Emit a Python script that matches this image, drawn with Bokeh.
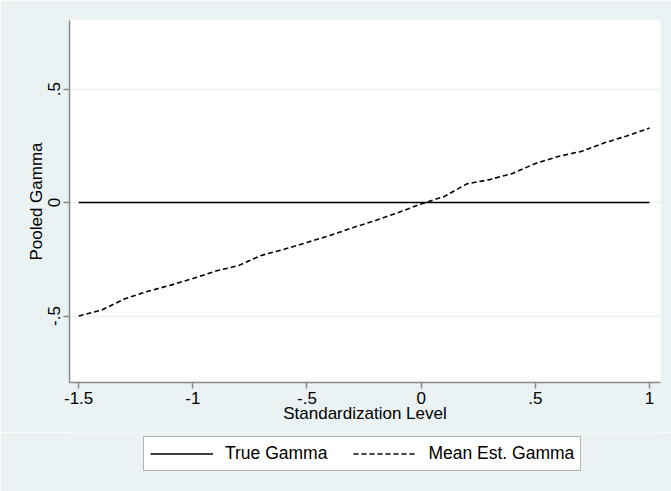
from bokeh.plotting import figure
from bokeh.layouts import column
from bokeh.models import Range1d, FixedTicker, Legend, LegendItem
from bokeh.embed import file_html
from bokeh.resources import INLINE

# Data
std_level = [-1.5, -1.4, -1.3, -1.2, -1.1, -1.0, -0.9, -0.8, -0.7, -0.6, -0.5, -0.4, -0.3,
             -0.2, -0.1, 0.0, 0.1, 0.2, 0.3, 0.4, 0.5, 0.6, 0.7, 0.8, 0.9, 1.0]
mean_est_gamma = [-0.500, -0.474, -0.425, -0.392, -0.365, -0.335, -0.302, -0.278, -0.233,
                  -0.206, -0.176, -0.145, -0.111, -0.079, -0.044, -0.006, 0.026, 0.082,
                  0.101, 0.128, 0.172, 0.203, 0.225, 0.262, 0.293, 0.328]
true_x = [-1.5, 1.0]
true_gamma = [0.0, 0.0]

x_ticks = [-1.5, -1.0, -0.5, 0.0, 0.5, 1.0]
x_tick_labels = ["-1.5", "-1", "-.5", "0", ".5", "1"]
y_ticks = [-0.5, 0.0, 0.5]
y_tick_labels = ["-.5", "0", ".5"]

BG = "#EAF2F3"
FONT = "Liberation Sans"
FS = "17px"

p = figure(width=671, height=432, output_backend="svg", toolbar_location=None,
           x_range=Range1d(-1.54, 1.048), y_range=Range1d(-0.793, 0.802),
           min_border_left=69, min_border_right=11, min_border_top=20, min_border_bottom=50)
p.background_fill_color = "white"
p.border_fill_color = BG
p.outline_line_color = None

r_true = p.line(true_x, true_gamma, line_color="black", line_width=1.3)
r_est = p.line(std_level, mean_est_gamma, line_color="black", line_width=1.6, line_dash="5 3")

# axes
p.xaxis.ticker = FixedTicker(ticks=x_ticks)
p.xaxis.major_label_overrides = {t: l for t, l in zip(x_ticks, x_tick_labels)}
p.yaxis.ticker = FixedTicker(ticks=y_ticks)
p.yaxis.major_label_overrides = {t: l for t, l in zip(y_ticks, y_tick_labels)}
p.yaxis.major_label_orientation = "vertical"

for ax in (p.xaxis[0], p.yaxis[0]):
    ax.axis_line_color = "#8a8a8a"
    ax.axis_line_width = 1.5
    ax.major_tick_line_color = "#8a8a8a"
    ax.major_tick_line_width = 1.5
    ax.major_tick_out = 6
    ax.major_tick_in = 0
    ax.minor_tick_line_color = None
    ax.major_label_text_font = FONT
    ax.major_label_text_font_size = FS
    ax.major_label_text_color = "black"
    ax.axis_label_text_font = FONT
    ax.axis_label_text_font_size = FS
    ax.axis_label_text_font_style = "normal"
    ax.axis_label_text_color = "black"

p.xaxis.axis_label = "Standardization Level"
p.yaxis.axis_label = "Pooled Gamma"
p.xaxis.major_label_standoff = 3
p.xaxis.axis_label_standoff = -3
p.yaxis.major_label_standoff = 3
p.yaxis.axis_label_standoff = 0

p.xgrid.grid_line_color = None
p.ygrid.ticker = FixedTicker(ticks=y_ticks)
p.ygrid.grid_line_color = BG
p.ygrid.grid_line_width = 1.5

# legend strip below the chart (its lines lie outside its visible ranges)
lg = figure(width=671, height=59, output_backend="svg", toolbar_location=None,
            x_range=Range1d(10, 11), y_range=Range1d(10, 11),
            x_axis_type=None, y_axis_type=None,
            min_border_left=0, min_border_right=0, min_border_top=0, min_border_bottom=0)
lg.background_fill_color = BG
lg.border_fill_color = BG
lg.outline_line_color = None
lg.xgrid.grid_line_color = None
lg.ygrid.grid_line_color = None
k_true = lg.line(true_x, true_gamma, line_color="black", line_width=1.3)
k_est = lg.line(std_level, mean_est_gamma, line_color="black", line_width=1.6, line_dash="5 3")

legend = Legend(items=[LegendItem(label="True Gamma", renderers=[k_true]),
                       LegendItem(label="Mean Est. Gamma", renderers=[k_est])],
                orientation="horizontal", location=(74, 20),
                label_text_font=FONT, label_text_font_size="17.5px", label_text_color="black",
                glyph_width=63, glyph_height=21, spacing=26, padding=6,
                label_standoff=12, margin=0,
                border_line_color="#666666", border_line_width=1,
                background_fill_color="white", background_fill_alpha=1.0)
lg.add_layout(legend, "center")

layout = column(p, lg, spacing=0)
open("out.html", "w").write(file_html(layout, INLINE))
